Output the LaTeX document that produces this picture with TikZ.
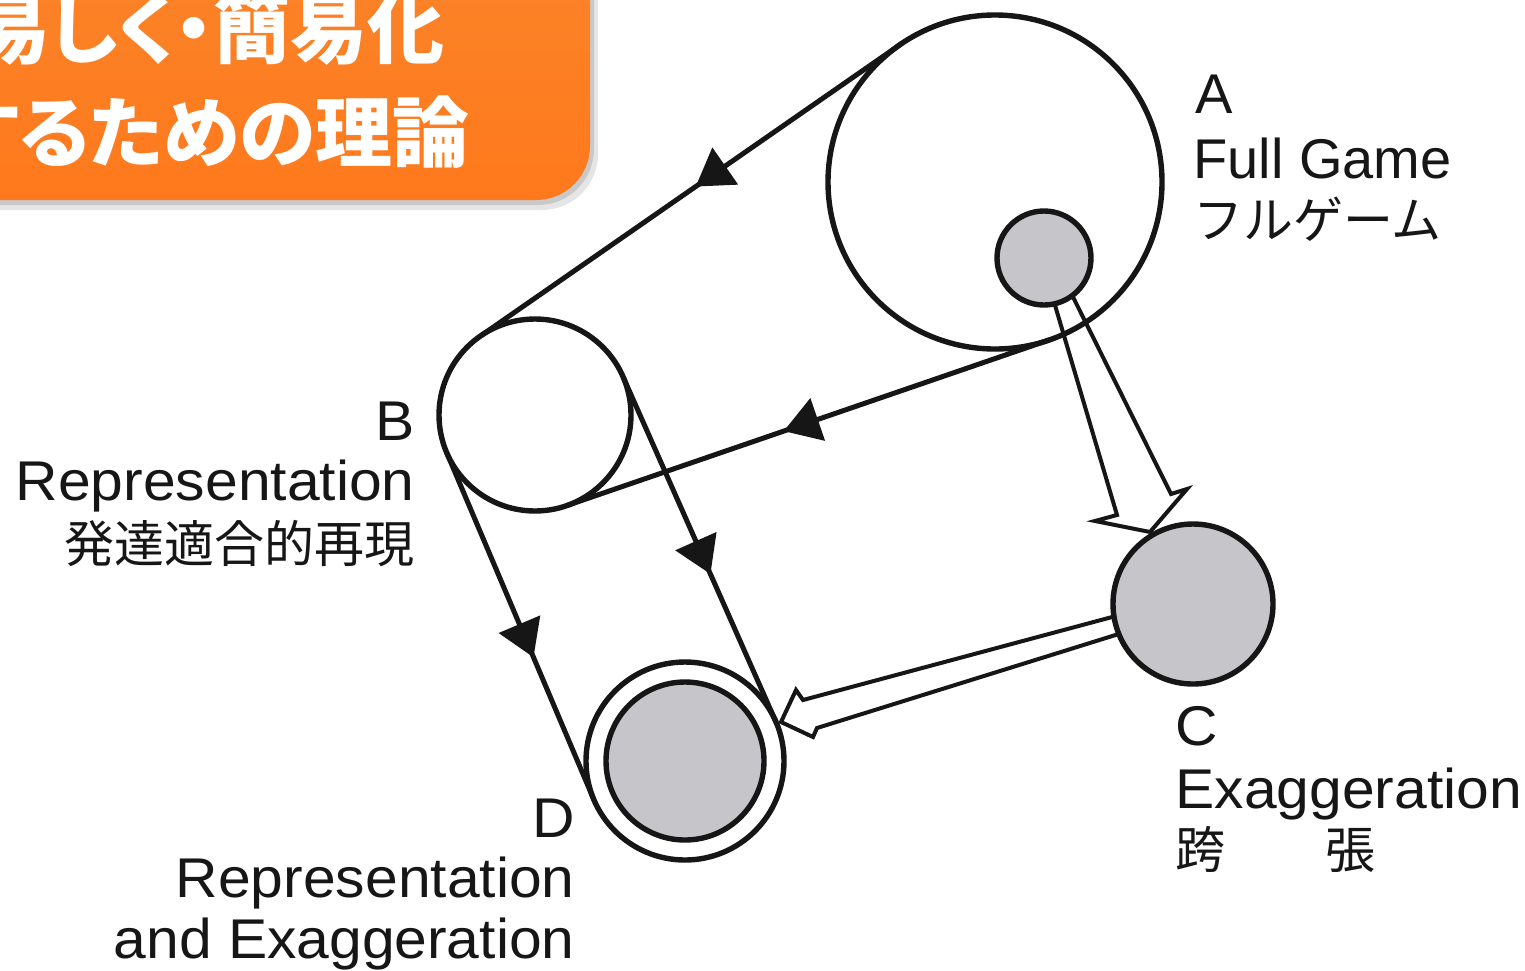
\documentclass[tikz,border=0pt]{standalone}
\usepackage{fontspec}
\setmainfont{Liberation Sans}
\newfontfamily\latw[FakeStretch=1.05]{Liberation Sans}
\newfontfamily\jp{Noto Sans CJK JP}
\newfontfamily\jpt[RawFeature=+palt]{Noto Sans CJK JP}
\usetikzlibrary{arrows.meta,decorations.markings}
\definecolor{ttltop}{RGB}{250,134,44}
\definecolor{ttlbot}{RGB}{255,121,28}
\definecolor{dotgray}{RGB}{198,198,202}
\definecolor{ink}{RGB}{22,22,22}
\begin{document}
\begin{tikzpicture}[x=0.5pt,y=-0.5pt,
  ring/.style={circle,draw=ink,line width=2.7pt,inner sep=0pt,outer sep=0pt},
  belt/.style={draw=ink,line width=2.5pt,postaction={decorate},
    decoration={markings,mark=at position #1 with {\arrow[ink]{Triangle[length=18pt,width=22pt]}}}},
  hollow/.style={draw=ink,line width=2pt,line join=miter},
  lbl/.style={text=ink,font=\fontsize{28}{30}\selectfont,inner sep=0pt},
  wlbl/.style={text=ink,font=\latw\fontsize{28}{30}\selectfont,inner sep=0pt},
  jlbl/.style={text=ink,font=\jp\fontsize{25}{28}\selectfont,inner sep=0pt},
  ttl/.style={text=white,font=\jpt\bfseries\fontsize{38.5}{40}\selectfont,inner sep=0pt}]
\useasboundingbox (0,0) rectangle (1525,970);
\fill[white] (0,0) rectangle (1525,970);

% title box
\fill[black,opacity=0.10,rounded corners=28pt] (-100,-100) rectangle (598,210);
\fill[black,opacity=0.12,rounded corners=28pt] (-100,-100) rectangle (594,205);
\shade[top color=ttltop,bottom color=ttlbot,rounded corners=27pt] (-100,-100) rectangle (590,200);
\node[ttl,anchor=base east] (t1) at (445,57) {易しく・簡易化};
\node[ttl,anchor=base east] (t2) at (470,161) {するための理論};

% circles
\node[ring,minimum size=167pt] (A) at (995,182) {};
\node[ring,fill=dotgray,minimum size=47pt] (a) at (1044,258) {};
\node[ring,minimum size=96pt] (B) at (535,415) {};
\node[ring,fill=dotgray,minimum size=80pt] (C) at (1193,604) {};
\node[ring,minimum size=99pt] (D) at (685,761) {};
\node[ring,fill=dotgray,minimum size=79pt] (d) at (D.center) {};

% belts
\path[belt=0.49] (A.124.8) -- (B.124.8);
\path[belt=0.55] (A.-71.1) -- (B.-71.1);
\path[belt=0.59] (B.203) -- (D.203);
\path[belt=0.57] (B.23.9) -- (D.23.9);

% hollow arrows
\draw[hollow] (a.-77.7) -- (1117,515) -- (1095,521) -- (1150,532) -- (1187,489) -- (1171,494) -- (a.-53);
\draw[hollow] (C.189) -- (803,700) -- (796,690) -- (781,722) -- (813,737) -- (817,728) -- (C.202);

% labels
\node[lbl,anchor=base west] (lA) at (1195,113) {A};
\node[lbl,anchor=base west] (lA2) at (1193,178) {Full Game};
\node[jlbl,anchor=base west] (lA3) at (1193,238) {フルゲーム};
\node[wlbl,anchor=base east] (lB) at (415,440) {B};
\node[wlbl,anchor=base east] (lB2) at (415,500) {Representation};
\node[jlbl,anchor=base east] (lB3) at (415,562) {発達適合的再現};
\node[wlbl,anchor=base west] (lC) at (1175,745) {C};
\node[wlbl,anchor=base west] (lC2) at (1175,808) {Exaggeration};
\node[jlbl,anchor=base west] (lC3) at (1175,868) {跨　　張};
\node[wlbl,anchor=base east] (lD) at (575,837) {D};
\node[wlbl,anchor=base east] (lD2) at (575,897) {Representation};
\node[wlbl,anchor=base east] (lD3) at (575,958) {and Exaggeration};
\end{tikzpicture}
\end{document}
